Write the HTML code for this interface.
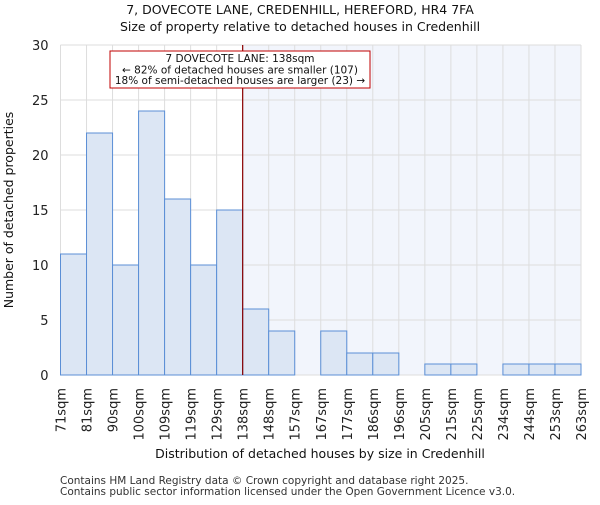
<!DOCTYPE html>
<html><head><meta charset="utf-8"><style>
body{margin:0;background:#fff;font-family:"Liberation Sans","DejaVu Sans",sans-serif}
svg text{font-family:"DejaVu Sans","Liberation Sans",sans-serif}
</style></head><body>
<svg id="c" width="600" height="500" xmlns="http://www.w3.org/2000/svg"></svg>
<script>
const categories=["71sqm","81sqm","90sqm","100sqm","109sqm","119sqm","129sqm","138sqm","148sqm","157sqm","167sqm","177sqm","186sqm","196sqm","205sqm","215sqm","225sqm","234sqm","244sqm","253sqm","263sqm"];
const values=[11,22,10,24,16,10,15,6,4,0,4,2,2,0,1,1,0,1,1,1];
const yTicks=[0,5,10,15,20,25,30];
const markerIndex=7;
const L=60.5,R=581,T=45,B=375,yMax=30;
const n=values.length,bw=(R-L)/n;
const xs=i=>L+i*bw;
const ys=v=>B-(v/yMax)*(B-T);
const svg=document.getElementById('c');
const NS="http://www.w3.org/2000/svg";
function mk(t,a,p){const e=document.createElementNS(NS,t);for(const k in a)e.setAttribute(k,a[k]);(p||svg).appendChild(e);return e;}
let hl=mk('rect',{x:xs(markerIndex),y:T,width:R-xs(markerIndex),height:B-T,fill:'#f2f5fc'});


for(let i=0;i<=n;i++){let g=mk('line',{x1:xs(i),x2:xs(i),y1:T,y2:B,stroke:'#dddddd','stroke-width':1});

}
yTicks.forEach(t=>{let g=mk('line',{x1:L,x2:R,y1:ys(t),y2:ys(t),stroke:'#dddddd','stroke-width':1});


let tx=mk('text',{x:L-12,y:ys(t)+5,'text-anchor':'end','font-size':13,fill:'#222'});tx.textContent=t;

});
values.forEach((v,i)=>{if(v<=0)return;let r=mk('rect',{x:xs(i),y:ys(v),width:bw,height:B-ys(v),fill:'#dce6f4',stroke:'#5b8fd6','stroke-width':1});

});
categories.forEach((c,i)=>{let t=mk('text',{transform:`translate(${xs(i)+5},388) rotate(-90)`,'text-anchor':'end','font-size':13,fill:'#222'});t.textContent=c;

});
let m=mk('line',{x1:xs(markerIndex),x2:xs(markerIndex),y1:T,y2:B,stroke:'#8b0000','stroke-width':1.2});


let ab=mk('rect',{x:110,y:51,width:260,height:37,fill:'#fff',stroke:'#c00000','stroke-width':1});


[["7 DOVECOTE LANE: 138sqm",62],["← 82% of detached houses are smaller (107)",73.5],["18% of semi-detached houses are larger (23) →",84]].forEach(([s,y])=>{let t=mk('text',{x:240,y:y,'text-anchor':'middle','font-size':10.5,fill:'#111'});t.textContent=s;

});
[["7, DOVECOTE LANE, CREDENHILL, HEREFORD, HR4 7FA",14],["Size of property relative to detached houses in Credenhill",31]].forEach(([s,y])=>{let t=mk('text',{x:300,y:y,'text-anchor':'middle','font-size':12.5,fill:'#111'});t.textContent=s;

});
let xt=mk('text',{x:320,y:458,'text-anchor':'middle','font-size':12.5,fill:'#111'});xt.textContent="Distribution of detached houses by size in Credenhill";


let yt=mk('text',{transform:'translate(13,210) rotate(-90)','text-anchor':'middle','font-size':12.5,fill:'#111'});yt.textContent="Number of detached properties";


[["Contains HM Land Registry data © Crown copyright and database right 2025.",484],["Contains public sector information licensed under the Open Government Licence v3.0.",495]].forEach(([s,y])=>{let t=mk('text',{x:60,y:y,'font-size':10.5,fill:'#333'});t.textContent=s;

});
</script>
</body></html>
